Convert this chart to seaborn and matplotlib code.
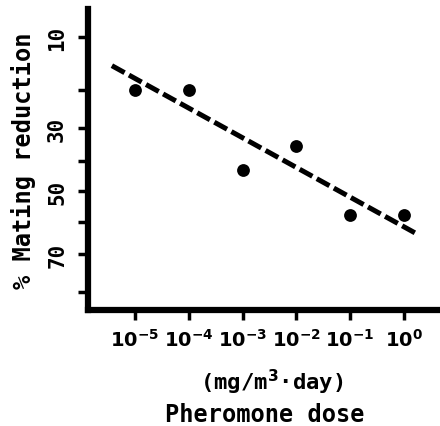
import numpy as np
import pandas as pd
import matplotlib
matplotlib.use("Agg")
import matplotlib.pyplot as plt
from matplotlib.ticker import NullLocator
import seaborn as sns
from statistics import NormalDist

# ---- data ----
dose = [1e-5, 1e-4, 1e-3, 1e-2, 1e-1, 1e0]          # mg/m3.day
mating_reduction = [20, 20, 43, 35.5, 58, 58]        # %
fit_dose = [10 ** -5.43, 10 ** 0.28]                 # fitted line ends
fit_reduction = [14.8, 64.3]
x_ticks = [1e-5, 1e-4, 1e-3, 1e-2, 1e-1, 1e0]
x_tick_labels = [r"$\mathbf{10^{-5}}$", r"$\mathbf{10^{-4}}$", r"$\mathbf{10^{-3}}$",
                 r"$\mathbf{10^{-2}}$", r"$\mathbf{10^{-1}}$", r"$\mathbf{10^{0}}$"]
y_ticks = [10, 20, 30, 40, 50, 60, 70, 80]
y_tick_labels = ["10", "", "30", "", "50", "", "70", ""]

# ---- probit scale ----
_nd = NormalDist()
_ppf = np.vectorize(lambda p: _nd.inv_cdf(min(max(p / 100.0, 1e-9), 1 - 1e-9)), otypes=[float])
_cdf = np.vectorize(lambda z: _nd.cdf(z) * 100.0, otypes=[float])


def fwd(p):
    return _ppf(np.asarray(p, dtype=float))


def inv(z):
    return _cdf(np.asarray(z, dtype=float))


sns.set_style("ticks")
plt.rcParams["font.family"] = ["DejaVu Sans Mono", "DejaVu Sans"]
plt.rcParams["font.weight"] = "bold"
plt.rcParams["mathtext.fontset"] = "dejavusans"
for k in ["text.color", "axes.labelcolor", "xtick.color", "ytick.color"]:
    plt.rcParams[k] = "black"

fig = plt.figure(figsize=(4.4, 4.27), dpi=100)
ax = fig.add_axes([0.2, 0.2717, 0.793, 0.7049])

pts = pd.DataFrame({"dose": dose, "red": mating_reduction})
line = pd.DataFrame({"dose": fit_dose, "red": fit_reduction})

ax.set_xscale("log")
ax.set_yscale("function", functions=(fwd, inv))

sns.lineplot(data=line, x="dose", y="red", ax=ax, color="black", lw=3.6,
             dashes=False, sort=False)
ax.lines[-1].set_dashes((2.9, 1.0))
ax.lines[-1].set_dash_capstyle("butt")
sns.scatterplot(data=pts, x="dose", y="red", ax=ax, color="black", s=85,
                edgecolor="black", linewidth=0, zorder=3)

ax.set_xlim(10 ** -5.874, 10 ** 0.613)
ax.set_ylim(83.9, 6.46)

ax.set_xticks(x_ticks, x_tick_labels)
ax.xaxis.set_minor_locator(NullLocator())
ax.set_yticks(y_ticks, y_tick_labels)
ax.yaxis.set_minor_locator(NullLocator())

ax.tick_params(axis="x", length=7, width=2.5, pad=6, labelsize=14, color="black")
ax.tick_params(axis="y", length=7, width=2.5, pad=8, labelsize=15, color="black")
for lab in ax.get_yticklabels():
    lab.set_rotation(90)
    lab.set_va("center")
    lab.set_fontweight("bold")

for s in ["left", "bottom"]:
    ax.spines[s].set_linewidth(4.5)
    ax.spines[s].set_color("black")
for s in ["top", "right"]:
    ax.spines[s].set_visible(False)

ax.set_ylabel("% Mating reduction", fontsize=17, fontweight="bold", labelpad=8)
ax.set_xlabel("(mg/m$\\mathbf{^3}$\u00b7day)", fontsize=16, fontweight="bold")
ax.xaxis.set_label_coords(0.527, -0.19)
fig.text(265 / 440, 1 - 415 / 427, "Pheromone dose", fontsize=17,
         fontweight="bold", ha="center", va="center")

fig.savefig("out.png", dpi=100)
